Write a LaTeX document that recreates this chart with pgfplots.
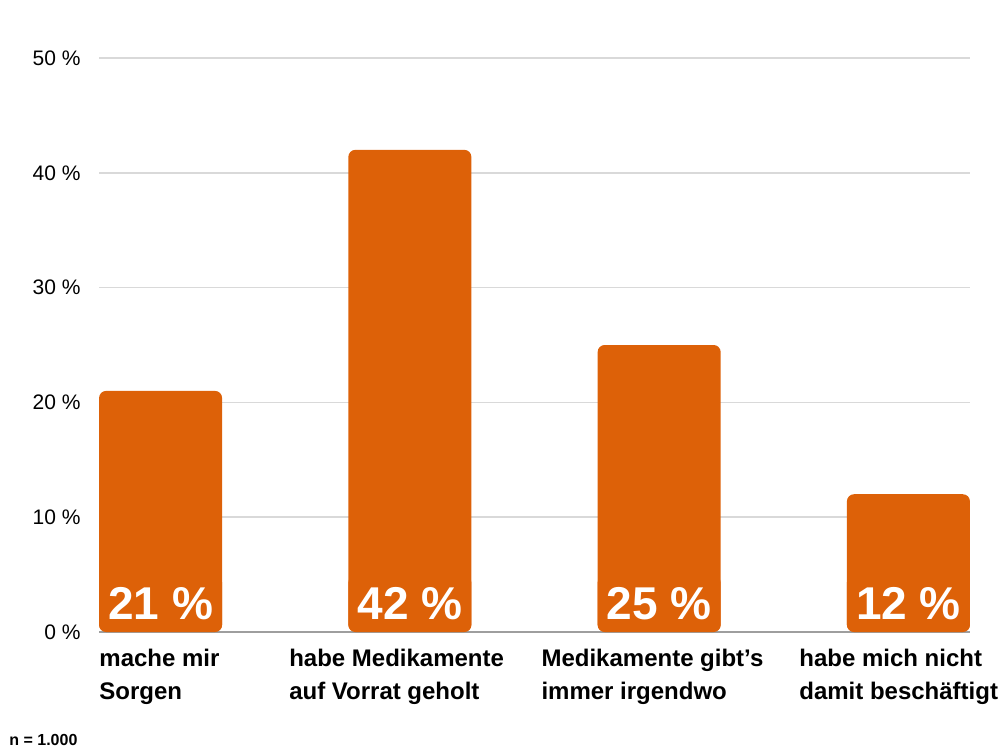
\documentclass[border=0pt]{standalone}
\usepackage{fontspec}
\setmainfont{Liberation Sans}
\usepackage{pgfplots}
\pgfplotsset{compat=1.18}
\definecolor{barorange}{HTML}{DD6108}
\definecolor{gridgray}{HTML}{D9D9D9}
\definecolor{axisgray}{HTML}{9E9E9E}

\begin{document}
\begin{tikzpicture}
\path[use as bounding box] (-49.5pt,-59pt) rectangle (450.5pt,316pt);
\begin{axis}[
  scale only axis, width=435.5pt, height=287pt,
  xmin=-0.247, xmax=3.247, ymin=0, ymax=50,
  ybar, bar width=61.5pt,
  axis line style={draw=none},
  ytick={10,20,30,40,50}, extra y ticks={0},
  ymajorgrids, grid style={gridgray, line width=0.75pt},
  extra y tick style={grid style={axisgray, line width=0.75pt}},
  major tick length=0pt,
  yticklabel={\pgfmathprintnumber{\tick}~\%},
  yticklabel style={anchor=east, inner sep=0pt, xshift=-9pt,
                    font=\fontsize{10.5}{12}\selectfont},
  /pgf/number format/assume math mode=true,
  xtick=data,
  xticklabels={{mache mir\\Sorgen}, {habe Medikamente\\auf Vorrat geholt},
               {Medikamente gibt’s\\immer irgendwo}, {habe mich nicht\\damit beschäftigt}},
  xticklabel style={anchor=base west, inner sep=0pt,
                    xshift={0.5pt*{-61.5,-121,-118,-109.5}[\ticknum]}, yshift=-33.5pt,
                    align=left, font=\bfseries\fontsize{12}{16.5}\selectfont},
  nodes near coords={\pgfmathprintnumber{\pgfplotspointmeta}~\%},
  visualization depends on={y \as \rawy},
  every node near coord/.append style={shift={(axis direction cs:0,-\rawy)},
        anchor=south, fill=barorange, text=white,
        font=\bfseries\fontsize{23}{24}\selectfont,
        minimum width=61.5pt, inner xsep=0pt, inner ysep=6pt, text depth=0pt},
  clip=false,
]
\addplot[fill=barorange, draw=none, rounded corners=3.5pt]
  coordinates {(0,21) (1,42) (2,25) (3,12)};
\end{axis}
\node[anchor=base west, inner sep=0pt, font=\bfseries\fontsize{8}{10}\selectfont] at (-45pt,-56.5pt) {n = 1.000};
\end{tikzpicture}
\end{document}
